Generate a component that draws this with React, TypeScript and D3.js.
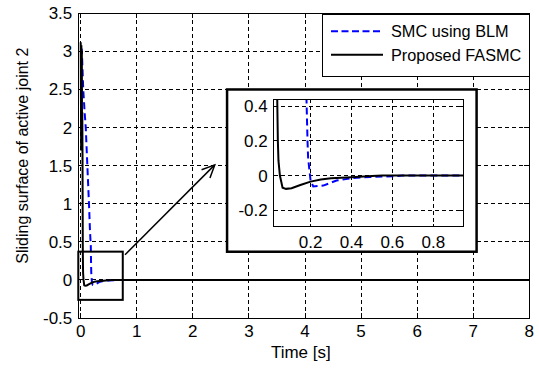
import React from "react";
import * as d3 from "d3";

// SMC using BLM (blue dashed)
const blmTime = [0, 0.02, 0.045, 0.07, 0.09, 0.11, 0.13, 0.15, 0.165, 0.18, 0.185, 0.188, 0.2, 0.213, 0.262, 0.327, 0.408, 0.49, 0.6, 0.65, 8];
const blmValue = [3.05, 3.02, 2.5, 2.2, 2.0, 1.65, 1.3, 0.95, 0.65, 0.44, 0.2, 0.1, -0.03, -0.063, -0.058, -0.029, -0.014, -0.008, -0.004, 0, 0];

// Proposed FASMC (black solid)
const fasmcTime = [0, 0.008, 0.012, 0.016, 0.02, 0.024, 0.028, 0.032, 0.037, 0.04, 0.043, 0.05, 0.063, 0.08, 0.107, 0.15, 0.2, 0.25, 0.3, 0.4, 0.5, 0.55, 8];
const fasmcValue = [3.12, 1.7, 3.08, 1.72, 3.0, 1.7, 2.2, 1.65, 0.44, 0.2, 0.086, 0.0, -0.071, -0.077, -0.073, -0.055, -0.035, -0.023, -0.016, -0.01, -0.003, 0, 0];

const mainXTicks = [0, 1, 2, 3, 4, 5, 6, 7, 8];
const mainYTicks = [-0.5, 0, 0.5, 1, 1.5, 2, 2.5, 3, 3.5];
const insetXTicks = [0.2, 0.4, 0.6, 0.8];
const insetYTicks = [-0.2, 0, 0.2, 0.4];

const mainXDomain = [-0.043, 8];
const mainYDomain = [-0.5, 3.5];
const insetXDomain = [0.02, 0.946];
const insetYDomain = [-0.296, 0.44];

// zoom region rectangle and inset placement (data coordinates of main axes)
const zoomRegion = { t0: -0.043, t1: 0.75, v0: -0.262, v1: 0.371 };
const insetBox = { t0: 2.61, t1: 7.06, v0: 0.37, v1: 2.5 };
const arrowFrom = [0.79, 0.33];
const arrowTo = [2.39, 1.51];

const seriesNames = ["SMC using BLM", "Proposed FASMC"];
const xLabel = "Time [s]";
const yLabel = "Sliding surface of active joint 2";

const FONT = "'Liberation Sans', Arial, sans-serif";

function fmt(v: number) {
  return String(v);
}

export default function App() {
  const W = 539;
  const H = 369;
  const L = 78.3, R = 529.3, T = 13.3, B = 318;
  const x = d3.scaleLinear().domain(mainXDomain).range([L, R]);
  const y = d3.scaleLinear().domain(mainYDomain).range([B, T]);

  const blm = blmTime.map((t, i) => [t, blmValue[i]] as [number, number]);
  const fas = fasmcTime.map((t, i) => [t, fasmcValue[i]] as [number, number]);

  const mainLine = d3.line<[number, number]>().x(d => x(d[0])).y(d => y(d[1]));

  // inset geometry
  const ox0 = x(insetBox.t0), ox1 = x(insetBox.t1), oy0 = y(insetBox.v1), oy1 = y(insetBox.v0);
  const iL = ox0 + 46.7, iR = ox1 - 13.4, iT = oy0 + 10, iB = oy1 - 25;
  const ix = d3.scaleLinear().domain(insetXDomain).range([iL, iR]);
  const iy = d3.scaleLinear().domain(insetYDomain).range([iB, iT]);
  const insetLine = d3.line<[number, number]>().x(d => ix(d[0])).y(d => iy(d[1]));

  // arrow
  const ax0 = x(arrowFrom[0]), ay0 = y(arrowFrom[1]);
  const ax1 = x(arrowTo[0]), ay1 = y(arrowTo[1]);
  const ang = Math.atan2(ay0 - ay1, ax0 - ax1);
  const headLen = 14, headAng = (25 * Math.PI) / 180;
  const h1 = [ax1 + headLen * Math.cos(ang + headAng), ay1 + headLen * Math.sin(ang + headAng)];
  const h2 = [ax1 + headLen * Math.cos(ang - headAng), ay1 + headLen * Math.sin(ang - headAng)];

  const tk = 5;
  const itk = 3;

  const legL = 322, legT = 14.5, legR = R, legB = 76;

  return (
    <svg width={W} height={H} style={{ position: "absolute", left: 0, top: 0, background: "#fff" }} fontFamily={FONT}>
      <defs>
        <clipPath id="mainClip">
          <rect x={L} y={T} width={R - L} height={B - T} />
        </clipPath>
        <clipPath id="insetClip">
          <rect x={iL} y={iT} width={iR - iL} height={iB - iT} />
        </clipPath>
      </defs>
      <rect x={0} y={0} width={W} height={H} fill="#fff" />

      {/* main grid */}
      <g stroke="#000" strokeWidth={1} strokeDasharray="4,3" shapeRendering="crispEdges">
        {mainXTicks.filter(v => v > mainXDomain[0] && v < mainXDomain[1]).map(v => (
          <line key={"gx" + v} x1={x(v)} x2={x(v)} y1={T} y2={B} />
        ))}
        {mainYTicks.filter(v => v > mainYDomain[0] && v < mainYDomain[1]).map(v => (
          <line key={"gy" + v} x1={L} x2={R} y1={y(v)} y2={y(v)} />
        ))}
      </g>

      {/* main curves */}
      <g clipPath="url(#mainClip)" fill="none">
        <path d={mainLine(blm) || ""} stroke="#0000ff" strokeWidth={2} strokeDasharray="7,4" />
        <path d={mainLine(fas) || ""} stroke="#000" strokeWidth={2} />
      </g>

      {/* main axes box and ticks */}
      <g stroke="#000" strokeWidth={1} fill="none" shapeRendering="crispEdges">
        <rect x={L} y={T} width={R - L} height={B - T} />
        {mainXTicks.map(v => (
          <g key={"tx" + v}>
            <line x1={x(v)} x2={x(v)} y1={B} y2={B - tk} />
            <line x1={x(v)} x2={x(v)} y1={T} y2={T + tk} />
          </g>
        ))}
        {mainYTicks.map(v => (
          <g key={"ty" + v}>
            <line x1={L} x2={L + tk} y1={y(v)} y2={y(v)} />
            <line x1={R} x2={R - tk} y1={y(v)} y2={y(v)} />
          </g>
        ))}
      </g>
      <g fontSize={17} fill="#000">
        {mainXTicks.map(v => (
          <text key={"lx" + v} x={x(v)} y={B + 18.5} textAnchor="middle">{fmt(v)}</text>
        ))}
        {mainYTicks.map(v => (
          <text key={"ly" + v} x={L - 6} y={y(v) + 6} textAnchor="end">{fmt(v)}</text>
        ))}
      </g>
      <text x={(L + R) / 2 - 3} y={358} fontSize={17} textAnchor="middle" fill="#000">{xLabel}</text>
      <text transform={`translate(28, ${(T + B) / 2 - 10}) rotate(-90)`} fontSize={16} textAnchor="middle" fill="#000">{yLabel}</text>

      {/* zoom region rectangle */}
      <rect x={x(zoomRegion.t0)} y={y(zoomRegion.v1)} width={x(zoomRegion.t1) - x(zoomRegion.t0)} height={y(zoomRegion.v0) - y(zoomRegion.v1)} fill="none" stroke="#000" strokeWidth={2} />

      {/* arrow */}
      <g stroke="#000" strokeWidth={1.5} fill="none">
        <line x1={ax0} y1={ay0} x2={ax1} y2={ay1} />
        <polyline points={`${h1[0]},${h1[1]} ${ax1},${ay1} ${h2[0]},${h2[1]}`} />
      </g>

      {/* inset */}
      <rect x={ox0} y={oy0} width={ox1 - ox0} height={oy1 - oy0} fill="#fff" stroke="#000" strokeWidth={2.5} />
      <g stroke="#000" strokeWidth={1} strokeDasharray="4,3" shapeRendering="crispEdges">
        {insetXTicks.map(v => (
          <line key={"igx" + v} x1={ix(v)} x2={ix(v)} y1={iT} y2={iB} />
        ))}
        {insetYTicks.map(v => (
          <line key={"igy" + v} x1={iL} x2={iR} y1={iy(v)} y2={iy(v)} />
        ))}
      </g>
      <g clipPath="url(#insetClip)" fill="none">
        <path d={insetLine(blm) || ""} stroke="#0000ff" strokeWidth={2} strokeDasharray="7,4" />
        <path d={insetLine(fas) || ""} stroke="#000" strokeWidth={2} />
      </g>
      <g stroke="#000" strokeWidth={1} fill="none" shapeRendering="crispEdges">
        <rect x={iL} y={iT} width={iR - iL} height={iB - iT} />
        {insetXTicks.map(v => (
          <g key={"itx" + v}>
            <line x1={ix(v)} x2={ix(v)} y1={iB} y2={iB - itk} />
            <line x1={ix(v)} x2={ix(v)} y1={iT} y2={iT + itk} />
          </g>
        ))}
        {insetYTicks.map(v => (
          <g key={"ity" + v}>
            <line x1={iL} x2={iL + itk} y1={iy(v)} y2={iy(v)} />
            <line x1={iR} x2={iR - itk} y1={iy(v)} y2={iy(v)} />
          </g>
        ))}
      </g>
      <g fontSize={17} fill="#000">
        {insetXTicks.map(v => (
          <text key={"ilx" + v} x={ix(v)} y={iB + 21.5} textAnchor="middle">{fmt(v)}</text>
        ))}
        {insetYTicks.map(v => (
          <text key={"ily" + v} x={iL - 6} y={iy(v) + 6} textAnchor="end">{fmt(v)}</text>
        ))}
      </g>

      {/* legend */}
      <rect x={legL} y={legT} width={legR - legL} height={legB - legT} fill="#fff" stroke="#000" strokeWidth={1} shapeRendering="crispEdges" />
      <line x1={331} x2={383} y1={31.3} y2={31.3} stroke="#0000ff" strokeWidth={2} strokeDasharray="7,3.5" />
      <line x1={331} x2={383} y1={54.7} y2={54.7} stroke="#000" strokeWidth={2} />
      <text x={391} y={37} fontSize={16.3} fill="#000">{seriesNames[0]}</text>
      <text x={391} y={60.5} fontSize={16.3} fill="#000">{seriesNames[1]}</text>
    </svg>
  );
}
